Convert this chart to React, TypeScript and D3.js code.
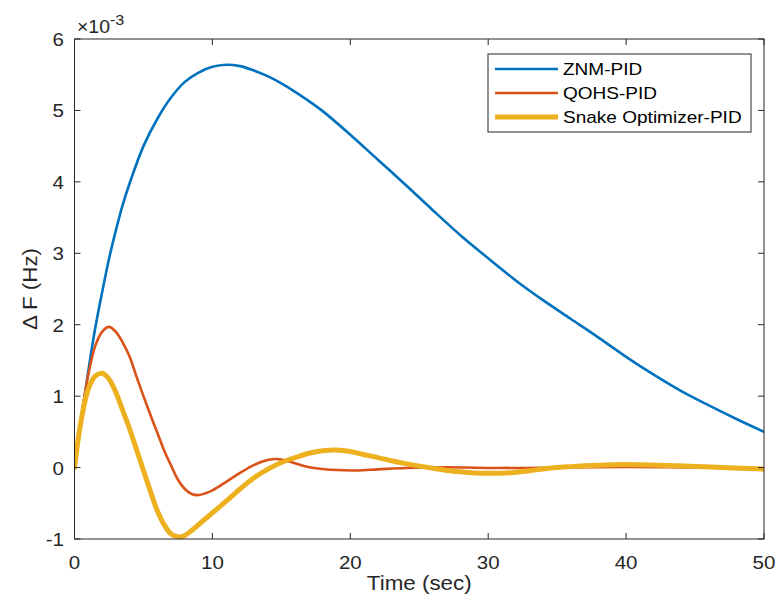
import React from "react";
import * as d3 from "d3";

const znmT = [0, 0.5, 1, 1.5, 2, 2.5, 3, 3.5, 4, 5, 6, 7, 8, 9, 10, 11, 12, 13, 14, 15, 16, 17, 18, 20, 22, 24, 26, 28, 30, 32, 34, 36, 38, 40, 42, 44, 46, 48, 50];
const znmV = [0, 0.7, 1.35, 1.95, 2.45, 2.92, 3.32, 3.68, 3.98, 4.5, 4.88, 5.18, 5.4, 5.53, 5.61, 5.64, 5.62, 5.56, 5.48, 5.38, 5.26, 5.13, 4.99, 4.66, 4.31, 3.96, 3.6, 3.25, 2.93, 2.62, 2.34, 2.08, 1.82, 1.55, 1.3, 1.07, 0.87, 0.68, 0.5];

const qohsT = [0, 0.5, 1, 1.5, 2, 2.5, 3, 3.5, 4, 4.5, 5, 5.5, 6, 6.5, 7, 7.5, 8, 8.5, 9, 9.5, 10, 11, 12, 13, 14, 14.7, 15.5, 16.5, 17.5, 19, 20.5, 22, 24, 27, 30, 35, 40, 45, 50];
const qohsV = [0, 0.72, 1.3, 1.7, 1.9, 1.97, 1.9, 1.75, 1.55, 1.27, 1.0, 0.74, 0.49, 0.24, 0.03, -0.17, -0.3, -0.37, -0.385, -0.36, -0.32, -0.2, -0.075, 0.035, 0.105, 0.12, 0.09, 0.03, -0.01, -0.035, -0.04, -0.025, -0.005, 0.005, -0.005, 0, 0.01, 0, -0.01];

const snakeT = [0, 0.5, 1, 1.5, 2, 2.5, 3, 3.5, 4, 4.5, 5, 5.5, 6, 6.5, 7, 7.5, 8, 8.5, 9, 9.5, 10, 11, 12, 13, 14, 15, 16, 17, 18, 19, 20, 21, 22, 23, 24, 25, 26, 27, 28, 29, 30, 31, 32, 33, 34, 35, 37, 39, 41, 43, 45, 47, 50];
const snakeV = [0, 0.68, 1.1, 1.28, 1.32, 1.24, 1.05, 0.8, 0.54, 0.25, -0.04, -0.33, -0.6, -0.8, -0.93, -0.97, -0.95, -0.88, -0.8, -0.715, -0.635, -0.47, -0.3, -0.145, -0.025, 0.07, 0.14, 0.2, 0.235, 0.245, 0.225, 0.18, 0.14, 0.095, 0.055, 0.02, -0.01, -0.04, -0.06, -0.075, -0.08, -0.08, -0.065, -0.045, -0.02, 0, 0.025, 0.04, 0.04, 0.03, 0.015, 0, -0.02];

const xTicks = [0, 10, 20, 30, 40, 50];
const yTicks = [-1, 0, 1, 2, 3, 4, 5, 6];
const seriesNames = ["ZNM-PID", "QOHS-PID", "Snake Optimizer-PID"];
const seriesColors = ["#0072BD", "#D95319", "#EDB120"];
const seriesWidths = [2.6, 2.6, 5];

export default function App() {
  const W = 779, H = 601;
  const left = 74.5, right = 764, top = 39, bottom = 539;
  const x = d3.scaleLinear().domain([0, 50]).range([left, right]);
  const y = d3.scaleLinear().domain([-1, 6]).range([bottom, top]);
  const line = d3
    .line<[number, number]>()
    .x((d) => x(d[0]))
    .y((d) => y(d[1]))
    .curve(d3.curveCatmullRom.alpha(0.5));
  const series = [
    d3.zip(znmT, znmV) as [number, number][],
    d3.zip(qohsT, qohsV) as [number, number][],
    d3.zip(snakeT, snakeV) as [number, number][],
  ];
  const axisColor = "#262626";
  const font = "'Liberation Sans', Arial, Helvetica, sans-serif";
  const tickLen = 6;
  const sx = 1.08;
  const lg = { x: 488, y: 54, w: 263, h: 78 };
  const rowY = [69, 93, 117];

  return (
    <svg width={W} height={H} style={{ position: "absolute", left: 0, top: 0, background: "#fff" }} fontFamily={font}>
      <rect x={0} y={0} width={W} height={H} fill="#fff" />
      <defs>
        <clipPath id="plotclip">
          <rect x={left} y={top - 4} width={right - left} height={bottom - top + 8} />
        </clipPath>
      </defs>
      <g clipPath="url(#plotclip)">
        {series.map((s, i) => (
          <path key={i} d={line(s) || ""} fill="none" stroke={seriesColors[i]} strokeWidth={seriesWidths[i]} strokeLinejoin="round" strokeLinecap="round" />
        ))}
      </g>
      <rect x={left} y={top} width={right - left} height={bottom - top} fill="none" stroke={axisColor} strokeWidth={1} />
      {xTicks.map((t) => (
        <g key={"xt" + t}>
          <line x1={x(t)} x2={x(t)} y1={bottom} y2={bottom - tickLen} stroke={axisColor} />
          <line x1={x(t)} x2={x(t)} y1={top} y2={top + tickLen} stroke={axisColor} />
          <text transform={`translate(${x(t)},569) scale(${sx},1)`} textAnchor="middle" fontSize={19} fill={axisColor}>
            {t}
          </text>
        </g>
      ))}
      {yTicks.map((t) => (
        <g key={"yt" + t}>
          <line x1={left} x2={left + tickLen} y1={y(t)} y2={y(t)} stroke={axisColor} />
          <line x1={right} x2={right - tickLen} y1={y(t)} y2={y(t)} stroke={axisColor} />
          <text transform={`translate(64,${y(t) + 7}) scale(${sx},1)`} textAnchor="end" fontSize={19} fill={axisColor}>
            {t}
          </text>
        </g>
      ))}
      <text transform={`translate(77,33) scale(${sx},1)`} fontSize={18} fill={axisColor}>
        ×10
        <tspan dy={-8} fontSize={15}>-3</tspan>
      </text>
      <text transform={`translate(${(left + right) / 2},590) scale(1.12,1)`} textAnchor="middle" fontSize={20} fill={axisColor}>
        Time (sec)
      </text>
      <text transform={`translate(37, ${(top + bottom) / 2}) rotate(-90) scale(1.12,1)`} textAnchor="middle" fontSize={20} fill={axisColor}>
        Δ F (Hz)
      </text>
      <rect x={lg.x} y={lg.y} width={lg.w} height={lg.h} fill="#fff" stroke={axisColor} strokeWidth={1} />
      {seriesNames.map((n, i) => (
        <g key={n}>
          <line x1={495} x2={558} y1={rowY[i]} y2={rowY[i]} stroke={seriesColors[i]} strokeWidth={seriesWidths[i]} />
          <text transform={`translate(563,${rowY[i] + 6}) scale(1.12,1)`} fontSize={17} fill="#000">
            {n}
          </text>
        </g>
      ))}
    </svg>
  );
}
